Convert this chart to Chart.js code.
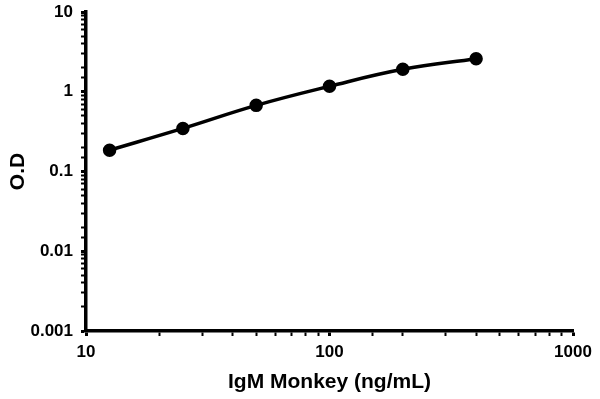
<!DOCTYPE html>
<html lang="en">
<head>
    <meta charset="UTF-8">
    <title>IgM Monkey standard curve</title>
    <script src="https://cdn.jsdelivr.net/npm/chart.js"></script>
    <style>
        html, body {
            margin: 0;
            padding: 0;
            background: #fff;
        }
        #wrap {
            width: 600px;
            height: 399px;
            position: relative;
        }
    </style>
</head>
<body>
    <div id="wrap"><canvas id="myChart"></canvas></div>

    <script>
        // concentration (ng/mL) and optical density
        const concentrations = [12.5, 25, 50, 100, 200, 400];
        const odValues = [0.185, 0.347, 0.675, 1.17, 1.91, 2.6];

        const xTicks = [10, 100, 1000];
        const yTicks = [0.001, 0.01, 0.1, 1, 10];

        const isDecade = v => Math.abs(Math.log10(v) - Math.round(Math.log10(v))) < 1e-9;
        const tickFont = { family: 'Arial, "Liberation Sans"', size: 17, weight: 'bold' };
        const titleFont = { family: 'Arial, "Liberation Sans"', size: 21, weight: 'bold' };

        const ctx = document.getElementById('myChart').getContext('2d');
        const myChart = new Chart(ctx, {
            type: 'line',
            data: {
                datasets: [{
                    data: concentrations.map((c, i) => ({ x: c, y: odValues[i] })),
                    borderColor: '#000',
                    backgroundColor: '#000',
                    borderWidth: 3.5,
                    pointRadius: 5,
                    pointHoverRadius: 5,
                    tension: 0.4,
                    fill: false
                }]
            },
            options: {
                responsive: true,
                maintainAspectRatio: false,
                animation: false,
                layout: { padding: { top: 12, right: 27, left: 0, bottom: 0 } },
                plugins: {
                    legend: { display: false },
                    tooltip: { enabled: false }
                },
                scales: {
                    x: {
                        type: 'logarithmic',
                        min: xTicks[0],
                        max: xTicks[xTicks.length - 1],
                        border: { color: '#000', width: 3.5 },
                        grid: {
                            drawOnChartArea: false,
                            color: '#000',
                            tickLength: 5,
                            tickWidth: c => (c.tick && isDecade(c.tick.value)) ? 3 : 2
                        },
                        ticks: {
                            autoSkip: false,
                            maxRotation: 0,
                            color: '#000',
                            font: tickFont,
                            padding: 6,
                            callback: v => xTicks.includes(v) ? String(v) : ''
                        },
                        title: {
                            display: true,
                            text: 'IgM Monkey (ng/mL)',
                            color: '#000',
                            font: titleFont,
                            padding: { top: 8 }
                        },
                        afterFit: s => {
                            s.height = 68;
                            s.paddingLeft = 0;
                            s.paddingRight = 0;
                        }
                    },
                    y: {
                        type: 'logarithmic',
                        min: yTicks[0],
                        max: yTicks[yTicks.length - 1],
                        border: { color: '#000', width: 3.5 },
                        grid: {
                            drawOnChartArea: false,
                            color: '#000',
                            tickLength: 5,
                            tickWidth: c => (c.tick && isDecade(c.tick.value)) ? 3 : 2
                        },
                        ticks: {
                            autoSkip: false,
                            color: '#000',
                            font: tickFont,
                            padding: 8,
                            callback: v => yTicks.some(t => Math.abs(t - v) < t * 1e-6) ? String(v) : ''
                        },
                        title: {
                            display: true,
                            text: 'O.D',
                            color: '#000',
                            font: titleFont,
                            padding: { top: 6, bottom: 6 }
                        },
                        afterFit: s => {
                            s.width = 86;
                            s.paddingTop = 0;
                            s.paddingBottom = 0;
                        }
                    }
                }
            }
        });
    </script>
</body>
</html>
